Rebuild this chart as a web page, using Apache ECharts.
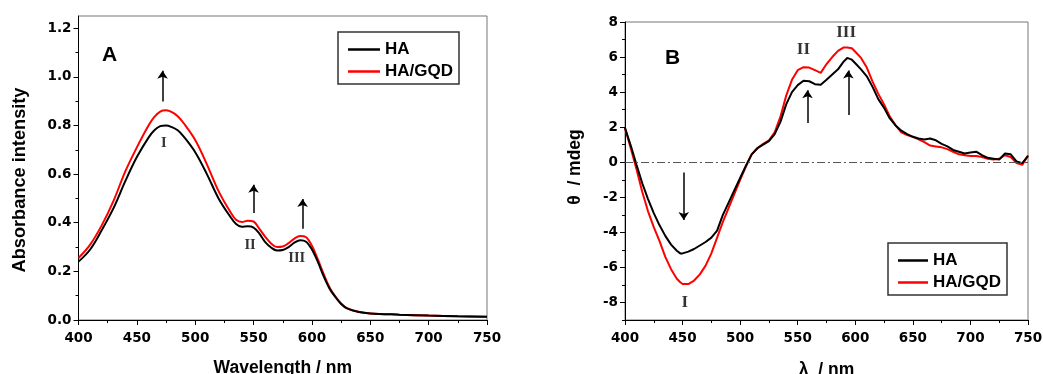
<!DOCTYPE html>
<html><head><meta charset="utf-8">
<script src="https://cdn.jsdelivr.net/npm/echarts@6/dist/echarts.min.js"></script>
<style>html,body{margin:0;padding:0;background:#fff}#c{width:1043px;height:374px}</style>
</head><body><div id="c"></div>
<script>
// Panel A: absorbance
const wlA = [400,410,420,430,440,450,460,465,470,475,480,485,490,500,510,520,530,535,540,545,550,555,560,565,570,575,580,585,590,595,600,605,610,615,620,625,630,640,650,675,700,725,750];
const haA = [0.24,0.29,0.37,0.46,0.57,0.67,0.75,0.78,0.797,0.80,0.793,0.78,0.755,0.69,0.60,0.50,0.425,0.395,0.383,0.385,0.38,0.355,0.32,0.298,0.286,0.288,0.30,0.318,0.328,0.322,0.29,0.24,0.18,0.13,0.095,0.066,0.048,0.033,0.027,0.022,0.018,0.015,0.013];
const hagqdA = [0.255,0.31,0.39,0.49,0.61,0.71,0.80,0.835,0.857,0.862,0.855,0.838,0.81,0.74,0.64,0.53,0.445,0.412,0.403,0.408,0.405,0.375,0.342,0.315,0.300,0.302,0.316,0.335,0.345,0.34,0.305,0.25,0.19,0.135,0.097,0.068,0.049,0.034,0.027,0.022,0.018,0.015,0.013];
// Panel B: CD
const wlB = [400,405,410,415,420,425,430,435,440,445,448,450,455,460,465,470,475,480,485,490,495,500,505,510,515,520,525,530,535,540,545,550,555,560,565,570,575,580,585,590,593,597,600,605,610,615,620,625,630,635,640,645,650,655,660,665,670,675,680,685,690,695,700,705,710,715,720,725,730,735,740,745,750];
const haB = [1.95,0.95,-0.15,-1.2,-2.1,-2.9,-3.6,-4.2,-4.7,-5.05,-5.2,-5.2,-5.1,-4.95,-4.75,-4.55,-4.3,-3.9,-3.0,-2.3,-1.6,-0.9,-0.2,0.45,0.8,1.0,1.2,1.6,2.3,3.3,4.0,4.4,4.65,4.62,4.45,4.42,4.7,5.0,5.3,5.75,5.95,5.85,5.65,5.3,4.9,4.3,3.6,3.1,2.5,2.1,1.8,1.6,1.45,1.35,1.3,1.35,1.25,1.05,0.9,0.7,0.6,0.5,0.55,0.6,0.4,0.25,0.2,0.15,0.5,0.45,0.05,-0.05,0.35];
const hagqdB = [1.95,0.8,-0.4,-1.7,-2.8,-3.7,-4.5,-5.4,-6.1,-6.65,-6.85,-6.95,-6.95,-6.75,-6.4,-5.9,-5.2,-4.3,-3.4,-2.6,-1.8,-1.0,-0.25,0.45,0.8,1.05,1.25,1.7,2.6,3.8,4.7,5.25,5.42,5.4,5.25,5.1,5.6,6.0,6.35,6.55,6.55,6.5,6.3,5.95,5.4,4.6,3.9,3.3,2.6,2.1,1.7,1.55,1.45,1.3,1.15,0.95,0.9,0.85,0.75,0.6,0.45,0.4,0.35,0.35,0.3,0.2,0.15,0.2,0.4,0.3,-0.05,-0.15,0.4];
// Ticks
const wlTicks = [400,450,500,550,600,650,700,750];
const wlMinor = [425,475,525,575,625,675,725];
const absTicks = [0,0.2,0.4,0.6,0.8,1.0,1.2];
const absMinor = [0.1,0.3,0.5,0.7,0.9,1.1];
const cdTicks = [-8,-6,-4,-2,0,2,4,6,8];
const cdMinor = [-9,-7,-5,-3,-1,1,3,5,7];
// Annotations
const romanA = [['I',473,0.725],['II',547,0.309],['III',587,0.255]];
const romanB = [['II',555,6.41],['III',592,7.37],['I',452,-7.98]];
const arrowsA = [[472,0.898,1.025],[550,0.44,0.556],[592,0.375,0.498]];
const arrowsB = [[451,-0.59,-3.3],[558.5,2.24,4.1],[594,2.7,5.23]];

const SANS = '"Liberation Sans", Arial, sans-serif';
const TICKFONT = '"DejaVu Sans", "Liberation Sans", sans-serif';
const SERIF = '"Liberation Serif", "Times New Roman", serif';

function mainAxis(g, min, max, ticks, fmt, name, gap, pos) {
  return {
    type: 'value', gridIndex: g, min: min, max: max, position: pos,
    axisLine: {show: true, onZero: false, lineStyle: {color: '#000', width: 1}},
    axisTick: {show: true, inside: false, length: 5, customValues: ticks, lineStyle: {color: '#000', width: 1}},
    axisLabel: {show: true, customValues: ticks, formatter: fmt, margin: pos === 'bottom' ? 11 : 7,
      fontFamily: TICKFONT, fontWeight: 'bold', fontSize: 13.5, color: '#000'},
    splitLine: {show: false}, minorTick: {show: false},
    name: name, nameLocation: 'middle', nameGap: gap,
    nameTextStyle: {fontFamily: SANS, fontWeight: 'bold', fontSize: 17.5, color: '#000'}
  };
}
function minorAxis(g, min, max, ticks, pos) {
  return {
    type: 'value', gridIndex: g, min: min, max: max, position: pos,
    axisLine: {show: false, onZero: false},
    axisTick: {show: true, inside: false, length: 3, customValues: ticks, lineStyle: {color: '#000', width: 1}},
    axisLabel: {show: false}, splitLine: {show: false}
  };
}
function pairs(xs, ys) { return xs.map((x, i) => [x, ys[i]]); }
function arrowLines(arr) {
  return arr.map(a => [{coord: [a[0], a[1]]}, {coord: [a[0], a[2]]}]);
}
function romanSeries(list, xi, yi, size) {
  return {
    type: 'scatter', name: 'roman' + xi, xAxisIndex: xi, yAxisIndex: yi, silent: true,
    symbolSize: 1, itemStyle: {color: 'rgba(0,0,0,0)'},
    data: list.map(r => ({name: r[0], value: [r[1], r[2]]})),
    label: {show: true, position: 'inside', formatter: '{b}', fontFamily: SERIF, fontWeight: 'bold', fontSize: size, color: '#000'}
  };
}
const f1 = v => Number(v).toFixed(1);
const f0 = v => String(Math.round(v));
const legendText = {fontFamily: SANS, fontWeight: 'bold', fontSize: 17, color: '#000'};

const chart = echarts.init(document.getElementById('c'), null, {renderer: 'canvas'});
chart.setOption({
  animation: false,
  backgroundColor: '#fff',
  grid: [
    {left: 78.5, top: 16, width: 408.5, height: 304, show: true, borderColor: '#777', borderWidth: 1, backgroundColor: 'transparent', outerBoundsMode: 'none', containLabel: false},
    {left: 625, top: 22, width: 403, height: 298, show: true, borderColor: '#777', borderWidth: 1, backgroundColor: 'transparent', outerBoundsMode: 'none', containLabel: false}
  ],
  xAxis: [
    mainAxis(0, 400, 750, wlTicks, f0, 'Wavelength / nm', 39, 'bottom'),
    minorAxis(0, 400, 750, wlMinor, 'bottom'),
    mainAxis(1, 400, 750, wlTicks, f0, 'λ  / nm', 41, 'bottom'),
    minorAxis(1, 400, 750, wlMinor, 'bottom')
  ],
  yAxis: [
    mainAxis(0, 0, 1.25, absTicks, f1, '', 50, 'left'),
    minorAxis(0, 0, 1.25, absMinor, 'left'),
    mainAxis(1, -9, 8, cdTicks, f0, '', 41, 'left'),
    minorAxis(1, -9, 8, cdMinor, 'left')
  ],
  legend: [
    {orient: 'vertical', left: 338, top: 32, icon: 'rect', itemWidth: 32, itemHeight: 2.5, itemGap: 5,
     padding: [9, 6, 4, 10], borderColor: '#333', borderWidth: 1.5, backgroundColor: '#fff',
     data: ['HA', 'HA/GQD'], textStyle: legendText},
    {orient: 'vertical', left: 888, top: 243, icon: 'rect', itemWidth: 30, itemHeight: 2.5, itemGap: 5,
     padding: [9, 6, 4, 10], borderColor: '#333', borderWidth: 1.5, backgroundColor: '#fff',
     data: ['HA', 'HA/GQD'], textStyle: legendText}
  ],
  graphic: [
    {type: 'text', left: 102, top: 45, style: {text: 'A', font: 'bold 21px ' + SANS, fill: '#000'}},
    {type: 'text', left: 665, top: 48, style: {text: 'B', font: 'bold 21px ' + SANS, fill: '#000'}},
    {type: 'text', x: 20, y: 180, rotation: Math.PI / 2,
     style: {text: 'Absorbance intensity', font: 'bold 18.2px ' + SANS, fill: '#000', align: 'center', verticalAlign: 'middle'}},
    {type: 'text', x: 575, y: 167, rotation: Math.PI / 2,
     style: {text: 'θ  / mdeg', font: 'bold 17.5px ' + SANS, fill: '#000', align: 'center', verticalAlign: 'middle'}}
  ],
  series: [
    {type: 'line', name: 'HA', xAxisIndex: 0, yAxisIndex: 0, data: pairs(wlA, haA), symbol: 'none', smooth: 0.35,
     lineStyle: {color: '#000', width: 2}, itemStyle: {color: '#000'}, z: 3},
    {type: 'line', name: 'HA/GQD', xAxisIndex: 0, yAxisIndex: 0, data: pairs(wlA, hagqdA), symbol: 'none', smooth: 0.35,
     lineStyle: {color: '#ff0000', width: 2}, itemStyle: {color: '#ff0000'}, z: 2,
     markLine: {silent: true, symbol: ['none', 'arrow'], symbolSize: 8, label: {show: false},
       lineStyle: {color: '#000', width: 1.5, type: 'solid'}, data: arrowLines(arrowsA)}},
    {type: 'line', name: 'HA', xAxisIndex: 2, yAxisIndex: 2, data: pairs(wlB, haB), symbol: 'none',
     lineStyle: {color: '#000', width: 2}, itemStyle: {color: '#000'}, z: 3,
     markLine: {silent: true, symbol: ['none', 'none'], label: {show: false},
       lineStyle: {color: '#555', width: 1, type: [8, 3, 2, 3]}, data: [{yAxis: 0}]}},
    {type: 'line', name: 'HA/GQD', xAxisIndex: 2, yAxisIndex: 2, data: pairs(wlB, hagqdB), symbol: 'none',
     lineStyle: {color: '#ff0000', width: 2}, itemStyle: {color: '#ff0000'}, z: 2,
     markLine: {silent: true, symbol: ['none', 'arrow'], symbolSize: 8, label: {show: false},
       lineStyle: {color: '#000', width: 1.5, type: 'solid'}, data: arrowLines(arrowsB)}},
    romanSeries(romanA, 0, 0, 14.5),
    romanSeries(romanB, 2, 2, 17)
  ]
});
</script></body></html>
